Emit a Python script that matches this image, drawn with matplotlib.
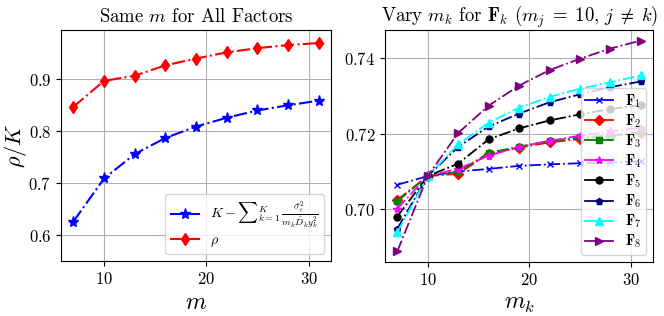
import matplotlib
matplotlib.use("Agg")
import matplotlib.pyplot as plt

plt.rcParams['font.family'] = ['cmr10', 'DejaVu Serif']
plt.rcParams['mathtext.fontset'] = 'cm'
plt.rcParams['axes.formatter.use_mathtext'] = True
plt.rcParams['axes.unicode_minus'] = False

m_vals = [7, 10, 13, 16, 19, 22, 25, 28, 31]

# Left panel
bound_vals = [0.626, 0.709, 0.756, 0.787, 0.809, 0.826, 0.840, 0.850, 0.859]
rho_vals = [0.847, 0.897, 0.907, 0.927, 0.940, 0.952, 0.960, 0.966, 0.970]

# Right panel
F1 = [0.7065, 0.7088, 0.7100, 0.7107, 0.7115, 0.7119, 0.7122, 0.7124, 0.7127]
F2 = [0.7025, 0.7088, 0.7094, 0.7147, 0.7163, 0.7177, 0.7186, 0.7194, 0.7202]
F3 = [0.7021, 0.7088, 0.7099, 0.7149, 0.7166, 0.7181, 0.7190, 0.7196, 0.7204]
F4 = [0.7002, 0.7088, 0.7107, 0.7142, 0.7165, 0.7181, 0.7195, 0.7206, 0.7216]
F5 = [0.6981, 0.7088, 0.7121, 0.7185, 0.7214, 0.7235, 0.7251, 0.7265, 0.7276]
F6 = [0.6949, 0.7088, 0.7165, 0.7219, 0.7253, 0.7283, 0.7304, 0.7323, 0.7338]
F7 = [0.6939, 0.7088, 0.7172, 0.7229, 0.7269, 0.7297, 0.7319, 0.7336, 0.7354]
F8 = [0.6889, 0.7088, 0.7202, 0.7274, 0.7327, 0.7368, 0.7398, 0.7425, 0.7446]
factor_series = [F1, F2, F3, F4, F5, F6, F7, F8]
factor_labels = [r'$\mathbf{F}_{%d}$' % i for i in range(1, 9)]
factor_colors = ['blue', 'red', 'green', 'magenta', 'black', 'navy', 'cyan', 'purple']
factor_markers = ['x', 'D', 's', '*', 'o', 'p', '^', '>']
factor_msizes = [5, 5, 5, 6, 5, 5, 6, 6]

fig = plt.figure(figsize=(6.64, 3.16), dpi=100)
ax1 = fig.add_axes([0.092, 0.174, 0.4065, 0.731])
ax2 = fig.add_axes([0.580, 0.171, 0.4035, 0.734])

ax1.plot(m_vals, bound_vals, color='blue', linestyle='-.', marker='*', markersize=8,
         linewidth=1.5,
         label=r'$K-{\sum}_{k=1}^{K}\,\frac{\hat{\sigma}_\epsilon^2}{m_k\hat{D}_k y_k^2}$')
ax1.plot(m_vals, rho_vals, color='red', linestyle='-.', marker='d', markersize=6,
         linewidth=1.5, label=r'$\rho$')
ax1.set_ylim(0.55, 0.995)
ax1.set_yticks([0.6, 0.7, 0.8, 0.9])
ax1.set_xticks([10, 20, 30])
ax1.grid(True, color='#b0b0b0', linewidth=0.8)
ax1.set_title(r'Same $m$ for All Factors', fontsize=13.5)
ax1.set_xlabel(r'$m$', fontsize=17)
ax1.set_ylabel(r'$\rho/K$', fontsize=16)
ax1.yaxis.set_label_coords(-0.118, 0.5)
ax1.tick_params(labelsize=12)
leg1 = ax1.legend(loc='lower right', fontsize=10, labelspacing=0.2)
for ln in leg1.get_lines():
    ln.set_linestyle('-')

for vals, lab, col, mk, ms in zip(factor_series, factor_labels, factor_colors,
                                  factor_markers, factor_msizes):
    ax2.plot(m_vals, vals, color=col, linestyle='-.', marker=mk, markersize=ms,
             linewidth=1.3, label=lab)
ax2.set_xticks([10, 20, 30])
ax2.set_yticks([0.70, 0.72, 0.74])
ax2.grid(True, color='#b0b0b0', linewidth=0.8)
ax2.set_title(r'Vary $m_k$ for $\mathbf{F}_k$ $(m_j\;=\;10,\, j\;\neq\;k)$', fontsize=13.5)
ax2.set_xlabel(r'$m_k$', fontsize=17)
ax2.tick_params(labelsize=12)
leg2 = ax2.legend(loc='lower right', fontsize=10.5, handlelength=1.9, labelspacing=0.18,
                  borderpad=0.3)
for ln in leg2.get_lines():
    ln.set_linestyle('-')

fig.savefig('out.png', dpi=100)
